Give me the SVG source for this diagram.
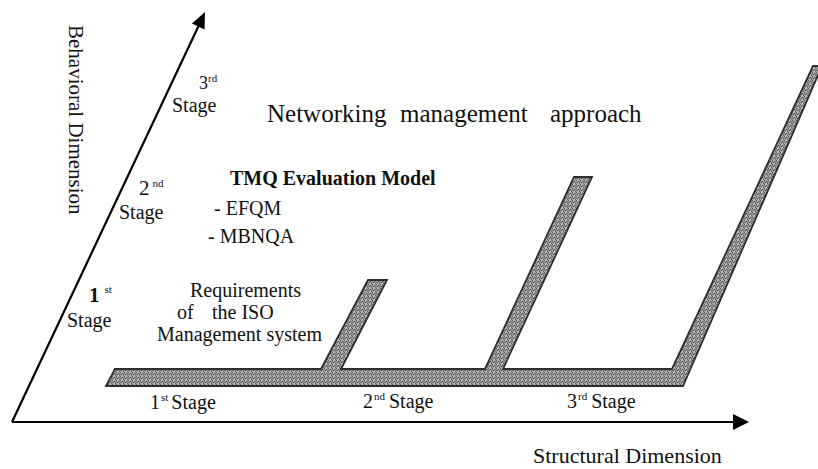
<svg xmlns="http://www.w3.org/2000/svg" width="818" height="469" viewBox="0 0 818 469">
  <style>
    text { font-family: "Liberation Serif", "Times New Roman", serif; fill: #111; }
    .lbl { font-size: 20px; }
    .big { font-size: 25px; }
    .bold { font-weight: bold; }
    .sup { font-size: 11px; }
    .axis { stroke: #000; stroke-width: 2.2; fill: none; }
    .band { fill: url(#grain); stroke: #2e2e2e; stroke-width: 1.8; stroke-linejoin: miter; }
  </style>
  <defs>
    <!-- dithered halftone grey used for the stage band -->
    <pattern id="grain" width="4" height="4" patternUnits="userSpaceOnUse">
      <rect width="4" height="4" fill="#a2a2a2"/>
      <rect x="0" y="0" width="1" height="1" fill="#4e4e4e"/>
      <rect x="2" y="1" width="1" height="1" fill="#5a5a5a"/>
      <rect x="1" y="2" width="1" height="1" fill="#4a4a4a"/>
      <rect x="3" y="3" width="1" height="1" fill="#606060"/>
      <rect x="3" y="1" width="1" height="1" fill="#7c7c7c"/>
      <rect x="1" y="0" width="1" height="1" fill="#c4c4c4"/>
      <rect x="2" y="3" width="1" height="1" fill="#c8c8c8"/>
      <rect x="0" y="2" width="1" height="1" fill="#838383"/>
      <rect x="3" y="2" width="1" height="1" fill="#8a8a8a"/>
    </pattern>
  </defs>

  <!-- axes -->
  <g id="axes">
    <line class="axis" x1="12" y1="422" x2="734" y2="422"/>
    <polygon points="749,422 733,414 733,430" fill="#000"/>
    <line class="axis" x1="12" y1="422" x2="199" y2="25"/>
    <polygon points="205,12 191.9,23.5 204.5,29.5" fill="#000"/>
  </g>

  <!-- stage band: horizontal track with three rising branches -->
  <g id="stage-band">
    <path class="band" d="M106,386 L115,369 L321,369 L368,280 L387,280 L341,369 L485,369 L574,177 L592,177 L503,369 L672,369 L813,66 L822,66 L683,386 Z"/>
  </g>

  <!-- axis titles -->
  <g id="axis-titles">
    <text transform="translate(69,25) rotate(90)" style="font-size:21px">Behavioral Dimension</text>
    <text x="533" y="463" style="font-size:22px">Structural Dimension</text>
  </g>

  <!-- behavioural stages -->
  <g id="b-stage-3">
    <text x="199" y="89" style="font-size:18px">3<tspan class="sup" dy="-7">rd</tspan></text>
    <text class="lbl" x="172" y="112">Stage</text>
  </g>
  <g id="b-stage-2">
    <text x="139" y="195" style="font-size:21px">2<tspan class="sup" dx="3" dy="-8">nd</tspan></text>
    <text class="lbl" x="119" y="219">Stage</text>
  </g>
  <g id="b-stage-1">
    <text class="bold" x="89" y="302" style="font-size:21px">1<tspan class="sup" style="font-weight:normal" dx="5" dy="-9">st</tspan></text>
    <text class="lbl" x="67" y="327">Stage</text>
  </g>

  <!-- stage contents -->
  <g id="networking">
    <text class="big" x="267" y="122">Networking</text>
    <text class="big" x="400" y="122">management</text>
    <text class="big" x="550" y="122">approach</text>
  </g>
  <g id="tmq">
    <text class="lbl bold" x="230" y="185">TMQ Evaluation Model</text>
    <text class="lbl" x="214" y="215">- EFQM</text>
    <text class="lbl" x="208" y="243">- MBNQA</text>
  </g>
  <g id="iso">
    <text class="lbl" x="190" y="297">Requirements</text>
    <text class="lbl" x="177" y="319">of</text>
    <text class="lbl" x="212" y="319">the ISO</text>
    <text class="lbl" x="157" y="341">Management system</text>
  </g>

  <!-- structural stages -->
  <g id="s-stage-1">
    <text class="lbl" x="150" y="409">1<tspan class="sup" dx="1" dy="-8">st</tspan><tspan dx="3" dy="8">Stage</tspan></text>
  </g>
  <g id="s-stage-2">
    <text class="lbl" x="363" y="408">2<tspan class="sup" dx="1" dy="-8">nd</tspan><tspan dx="4" dy="8">Stage</tspan></text>
  </g>
  <g id="s-stage-3">
    <text class="lbl" x="567" y="408">3<tspan class="sup" dx="1" dy="-8">rd</tspan><tspan dx="4" dy="8">Stage</tspan></text>
  </g>
</svg>
